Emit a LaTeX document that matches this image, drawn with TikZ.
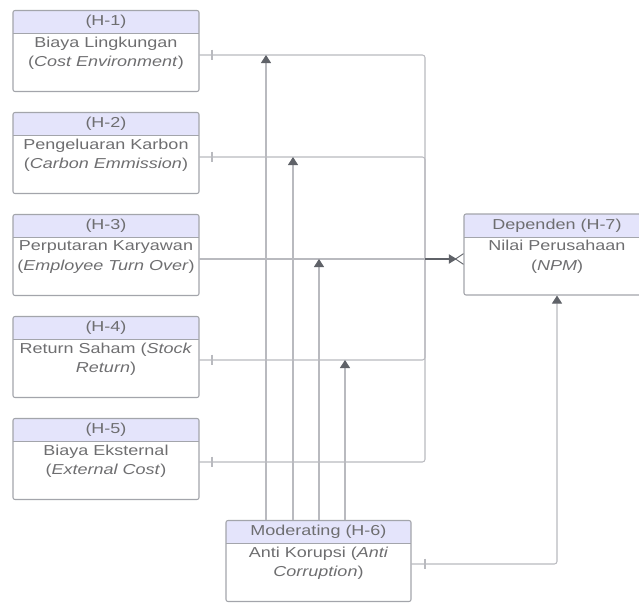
\documentclass[tikz,border=0pt]{standalone}
\usepackage{fontspec}
\setmainfont[FakeStretch=1.25]{Liberation Sans}
\usetikzlibrary{arrows.meta}
\definecolor{linecol}{HTML}{B9BABF}
\definecolor{tipcol}{HTML}{5F6268}
\definecolor{bordercol}{HTML}{A3A5AB}
\definecolor{headcol}{HTML}{E4E4FB}
\definecolor{txtcol}{HTML}{6E6E70}
\tikzset{
  box/.style={draw=bordercol, line width=0.8pt, rounded corners=1.5pt, minimum width=#1*0.75pt, minimum height=81*0.75pt, inner sep=0pt,
    path picture={\fill[headcol] (path picture bounding box.north west) rectangle ([yshift=-17.5pt]path picture bounding box.north east);
      \draw[bordercol, line width=0.8pt] ([yshift=-17.5pt]path picture bounding box.north west) -- ([yshift=-17.5pt]path picture bounding box.north east);}},
  box/.default=186,
  headtext/.style={text=txtcol, font=\fontsize{10.8}{14.6}\selectfont, inner sep=0pt},
  bodytext/.style={text=txtcol, font=\fontsize{10.8}{14.6}\selectfont, inner sep=0pt, align=center, anchor=north},
  conn/.style={draw=linecol, line width=0.8pt},
  varrow/.style={draw=linecol, line width=0.8pt, -{Triangle[width=7.5pt,length=6pt,fill=tipcol,color=tipcol]}},
  tick/.style={draw=linecol, line width=0.8pt},
}
\begin{document}
\begin{tikzpicture}[x=0.75pt,y=-0.75pt]
\useasboundingbox (0,0) rectangle (639,603);
% left boxes
\node[box] (h1) at (106,51) {};
\node[box] (h2) at (106,153) {};
\node[box] (h3) at (106,255) {};
\node[box] (h4) at (106,357) {};
\node[box] (h5) at (106,459) {};
\node[box] (dep) at (557,254.5) {};
\node[box=185] (mod) at (318.5,561) {};
% texts
\node[headtext] at ([yshift=-9pt]h1.north) {(H-1)};
\node[bodytext] at ([yshift=-20pt]h1.north) {Biaya Lingkungan\\(\textit{Cost Environment})};
\node[headtext] at ([yshift=-9pt]h2.north) {(H-2)};
\node[bodytext] at ([yshift=-20pt]h2.north) {Pengeluaran Karbon\\(\textit{Carbon Emmission})};
\node[headtext] at ([yshift=-9pt]h3.north) {(H-3)};
\node[bodytext] at ([yshift=-20pt]h3.north) {Perputaran Karyawan\\(\textit{Employee Turn Over})};
\node[headtext] at ([yshift=-9pt]h4.north) {(H-4)};
\node[bodytext] at ([yshift=-20pt]h4.north) {Return Saham (\textit{Stock}\\\textit{Return})};
\node[headtext] at ([yshift=-9pt]h5.north) {(H-5)};
\node[bodytext] at ([yshift=-20pt]h5.north) {Biaya Eksternal\\(\textit{External Cost})};
\node[headtext] at ([yshift=-9pt]dep.north) {Dependen (H-7)};
\node[bodytext] at ([yshift=-20pt]dep.north) {Nilai Perusahaan\\(\textit{NPM})};
\node[headtext] at ([yshift=-9pt]mod.north) {Moderating (H-6)};
\node[bodytext] at ([yshift=-20pt]mod.north) {Anti Korupsi (\textit{Anti}\\\textit{Corruption})};
% bus
\coordinate (j) at (425,259);
\coordinate (s1) at (199,55);
\coordinate (s2) at (199,157);
\coordinate (s3) at (199,259);
\coordinate (s4) at (199,360);
\coordinate (s5) at (199,462);
\draw[conn, rounded corners=2pt] (s1) -| (j);
\draw[conn, rounded corners=2pt] (s2) -| (j);
\draw[conn] (s3) -- (j);
\draw[conn, rounded corners=2pt] (s4) -| (j);
\draw[conn, rounded corners=2pt] (s5) -| (j);
\foreach \s in {s1,s2,s4,s5}{\draw[tick] ([xshift=9.75pt,yshift=4pt]\s) -- ([xshift=9.75pt,yshift=-4pt]\s);}
% junction to dependent
\coordinate (dj) at (dep.west |- j);
\draw[draw=tipcol, line width=0.9pt, -{Triangle[width=7pt,length=6pt,fill=tipcol]}] (j) -- ([xshift=-5pt]dj);
\draw[draw=tipcol, line width=0.7pt] ([xshift=-6pt]dj) -- ([yshift=4pt]dj) ([xshift=-6pt]dj) -- ([yshift=-4pt]dj);
% moderating arrows
\coordinate (a1) at (266,55);
\coordinate (a2) at (293,157);
\coordinate (a3) at (319,259);
\coordinate (a4) at (345,360);
\foreach \a in {a1,a2,a3,a4}{\draw[varrow] (\a |- mod.north) -- (\a);}
% moderating to dependent
\coordinate (m1) at (411,564);
\draw[varrow, rounded corners=2pt] (m1) -| (dep.south);
\draw[tick] ([xshift=10.5pt,yshift=4pt]m1) -- ([xshift=10.5pt,yshift=-4pt]m1);
\end{tikzpicture}
\end{document}
